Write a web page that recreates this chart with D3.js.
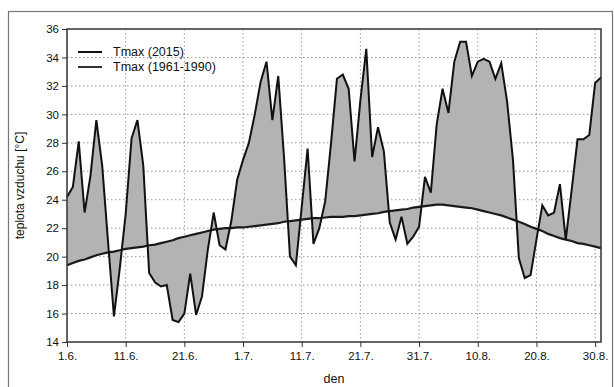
<!DOCTYPE html>
<html>
<head>
<meta charset="utf-8">
<script src="https://cdn.jsdelivr.net/npm/d3@7"></script>
<style>
  body { margin: 0; background: #fff; }
  svg { display: block; font-family: "Liberation Sans", Arial, sans-serif; }
  .grid line { stroke: #999; stroke-dasharray: 1.5 2.5; }
  .axis text { font-size: 11.5px; fill: #111; }
  .axis path, .axis line { stroke: #333; }
</style>
</head>
<body>
<svg id="chart"></svg>
<script>
// day index 0 = 1.6.2015 ... 91 = 31.8.2015
const tmax2015 = [
  24.2, 24.9, 28.1, 23.1, 25.7, 29.6, 26.4, 21.0, 15.8, 19.2,
  23.0, 28.3, 29.6, 26.4, 18.85, 18.2, 17.9, 18.0, 15.55, 15.4,
  16.0, 18.8, 15.9, 17.2, 20.5, 23.1, 20.8, 20.5, 22.5, 25.4,
  26.8, 28.0, 30.0, 32.3, 33.7, 29.6, 32.7, 26.9, 20.0, 19.4,
  23.5, 27.6, 20.9, 22.0, 23.9, 28.0, 32.5, 32.8, 31.8, 26.7,
  31.0, 34.6, 27.0, 29.1, 27.4, 22.4, 21.2, 22.8, 20.9, 21.4,
  22.1, 25.6, 24.5, 29.3, 31.8, 30.1, 33.7, 35.1, 35.1, 32.7,
  33.7, 33.9, 33.7, 32.5, 33.6, 30.9, 26.8, 19.9, 18.5, 18.7,
  21.2, 23.6, 22.9, 23.1, 25.1, 21.2, 24.7, 28.25, 28.25, 28.55,
  32.2, 32.6
];
const tmaxNormal = [
  19.4, 19.55, 19.7, 19.8, 19.95, 20.1, 20.2, 20.3, 20.35, 20.45,
  20.55, 20.6, 20.65, 20.7, 20.8, 20.85, 20.95, 21.05, 21.15, 21.3,
  21.4, 21.5, 21.6, 21.7, 21.8, 21.9, 21.95, 22.0, 22.0, 22.05,
  22.05, 22.1, 22.15, 22.2, 22.25, 22.3, 22.35, 22.45, 22.5, 22.55,
  22.6, 22.65, 22.7, 22.7, 22.75, 22.8, 22.8, 22.8, 22.85, 22.85,
  22.9, 22.95, 23.0, 23.05, 23.15, 23.2, 23.25, 23.3, 23.35, 23.45,
  23.5, 23.55, 23.6, 23.65, 23.65, 23.6, 23.55, 23.5, 23.45, 23.4,
  23.3, 23.2, 23.1, 23.0, 22.9, 22.75, 22.6, 22.45, 22.3, 22.1,
  21.95, 21.8, 21.6, 21.45, 21.3, 21.2, 21.1, 20.95, 20.9, 20.8,
  20.7, 20.6
];
const xTickDays = [0, 10, 20, 30, 40, 50, 60, 70, 80, 90];
const xTickLabels = ["1.6.", "11.6.", "21.6.", "1.7.", "11.7.", "21.7.", "31.7.", "10.8.", "20.8.", "30.8."];
const yTicks = [14, 16, 18, 20, 22, 24, 26, 28, 30, 32, 34, 36];
const seriesNames = ["Tmax (2015)", "Tmax (1961-1990)"];

const width = 614, height = 387;
const margin = { top: 29, right: 13, bottom: 45, left: 67 };

const svg = d3.select("#chart").attr("width", width).attr("height", height);

// outer frame of the figure
svg.append("rect")
  .attr("x", 8.5).attr("y", 11.5)
  .attr("width", 604).attr("height", 390)
  .attr("fill", "none").attr("stroke", "#777").attr("stroke-width", 1.2);

const x = d3.scaleLinear()
  .domain([0, tmax2015.length - 1])
  .range([margin.left, width - margin.right]);

const y = d3.scaleLinear()
  .domain([14, 36])
  .range([height - margin.bottom, margin.top]);

// grid
svg.append("g").attr("class", "grid")
  .selectAll("line.h").data(yTicks.slice(1, -1)).join("line")
  .attr("x1", margin.left).attr("x2", width - margin.right)
  .attr("y1", d => y(d)).attr("y2", d => y(d));
svg.append("g").attr("class", "grid")
  .selectAll("line.v").data(xTickDays.slice(1)).join("line")
  .attr("x1", d => x(d)).attr("x2", d => x(d))
  .attr("y1", margin.top).attr("y2", height - margin.bottom);

const days = d3.range(tmax2015.length);

const area = d3.area()
  .x(d => x(d))
  .y0(d => y(tmaxNormal[d]))
  .y1(d => y(tmax2015[d]));

svg.append("path")
  .datum(days)
  .attr("d", area)
  .attr("fill", "#b3b3b3");

const lineNormal = d3.line().x(d => x(d)).y(d => y(tmaxNormal[d]));
const line2015 = d3.line().x(d => x(d)).y(d => y(tmax2015[d]));

svg.append("path").datum(days).attr("d", lineNormal)
  .attr("fill", "none").attr("stroke", "#1a1a1a").attr("stroke-width", 2.2);
svg.append("path").datum(days).attr("d", line2015)
  .attr("fill", "none").attr("stroke", "#111").attr("stroke-width", 2)
  .attr("stroke-linejoin", "miter");

// plot frame
svg.append("rect")
  .attr("x", margin.left).attr("y", margin.top)
  .attr("width", width - margin.left - margin.right)
  .attr("height", height - margin.top - margin.bottom)
  .attr("fill", "none").attr("stroke", "#333").attr("stroke-width", 1.5);

// axes
svg.append("g").attr("class", "axis")
  .attr("transform", `translate(0,${height - margin.bottom})`)
  .call(d3.axisBottom(x).tickValues(xTickDays).tickSize(5).tickPadding(5)
    .tickFormat((d, i) => xTickLabels[i]))
  .call(g => g.select(".domain").remove());

svg.append("g").attr("class", "axis")
  .attr("transform", `translate(${margin.left},0)`)
  .call(d3.axisLeft(y).tickValues(yTicks).tickSize(5).tickPadding(3))
  .call(g => g.select(".domain").remove());

// axis titles
svg.append("text")
  .attr("transform", `translate(24,${(margin.top + height - margin.bottom) / 2}) rotate(-90)`)
  .attr("text-anchor", "middle")
  .attr("font-size", 12).attr("fill", "#111")
  .text("teplota vzduchu [°C]");

svg.append("text")
  .attr("x", (margin.left + width - margin.right) / 2)
  .attr("y", 383)
  .attr("text-anchor", "middle")
  .attr("font-size", 12.5).attr("fill", "#111")
  .text("den");

// legend
const legend = svg.append("g");
legend.selectAll("line").data(seriesNames).join("line")
  .attr("x1", 78).attr("x2", 102)
  .attr("y1", (d, i) => 52 + i * 15).attr("y2", (d, i) => 52 + i * 15)
  .attr("stroke", (d, i) => i === 0 ? "#111" : "#333").attr("stroke-width", 2);
legend.selectAll("text").data(seriesNames).join("text")
  .attr("x", 113).attr("y", (d, i) => 56 + i * 15)
  .attr("font-size", 12.5).attr("fill", "#111")
  .text(d => d);
</script>
</body>
</html>
